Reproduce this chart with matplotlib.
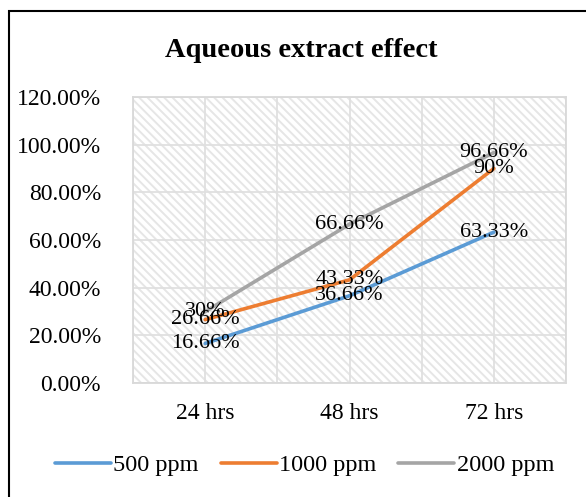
import matplotlib.pyplot as plt
from matplotlib.patches import Rectangle

# data
categories = ["24 hrs", "48 hrs", "72 hrs"]
series_names = ["500 ppm", "1000 ppm", "2000 ppm"]
ppm500 = [16.66, 36.66, 63.33]
ppm1000 = [26.66, 43.33, 90.0]
ppm2000 = [30.0, 66.66, 96.66]
labels500 = ["16.66%", "36.66%", "63.33%"]
labels1000 = ["26.66%", "43.33%", "90%"]
labels2000 = ["30%", "66.66%", "96.66%"]
y_ticks = [0, 20, 40, 60, 80, 100, 120]

colors = ["#5B9BD5", "#ED7D31", "#A5A5A5"]

plt.rcParams['font.family'] = ['Liberation Serif', 'DejaVu Serif']
plt.rcParams['hatch.linewidth'] = 1.4

fs = 16
tick_fs = 17
fig = plt.figure(figsize=(5.86, 4.97), dpi=100)
ax = fig.add_axes([0.227, 0.229, 0.739, 0.576])

# diagonal pattern fill of the plot area
ax.add_patch(Rectangle((0, 0), 1, 1, transform=ax.transAxes, facecolor='white',
                       edgecolor='#e6e6e6', hatch='\\\\\\\\', lw=0, zorder=0))

x = list(range(len(categories)))
all_series = [ppm500, ppm1000, ppm2000]
all_labels = [labels500, labels1000, labels2000]
for vals, name, c in zip(all_series, series_names, colors):
    ax.plot(x, vals, color=c, lw=2.6, label=name, solid_capstyle='round', zorder=3)
for vals, labs in zip(all_series, all_labels):
    for xi, v, t in zip(x, vals, labs):
        ax.text(xi, v, t, ha='center', va='center', fontsize=fs, color='#000000', zorder=4)

ax.set_xlim(-0.5, 2.5)
ax.set_ylim(0, 120)
ax.set_yticks(y_ticks)
ax.set_yticklabels([f"{t:.2f}%" for t in y_ticks])
ax.set_xticks(x)
ax.set_xticklabels(categories)
ax.set_xticks([-0.5, 0.5, 1.5, 2.5], minor=True)
ax.tick_params(axis='both', which='both', length=0, labelsize=tick_fs)
ax.tick_params(axis='y', pad=23)
ax.tick_params(axis='x', pad=14)
ax.grid(True, which='both', color='#e0e0e0', lw=1.3, zorder=1)
ax.set_axisbelow(True)
for s in ax.spines.values():
    s.set_color('#d9d9d9')
    s.set_linewidth(1.3)

fig.text(0.514, 0.898, "Aqueous extract effect", ha='center', va='center',
         fontsize=20.5, fontweight='bold')

fig.legend(loc='center', bbox_to_anchor=(0.52, 0.064), ncol=3, frameon=False,
           fontsize=17.5, handlelength=2.3, handletextpad=0.1, columnspacing=0.9)

# outer chart border (runs off the right and bottom of the image)
fig.patches.append(Rectangle((0.0154, -0.1), 1.2, 1.078, transform=fig.transFigure,
                             fill=False, edgecolor='black', lw=1.5))

fig.savefig("out.png", dpi=100)
